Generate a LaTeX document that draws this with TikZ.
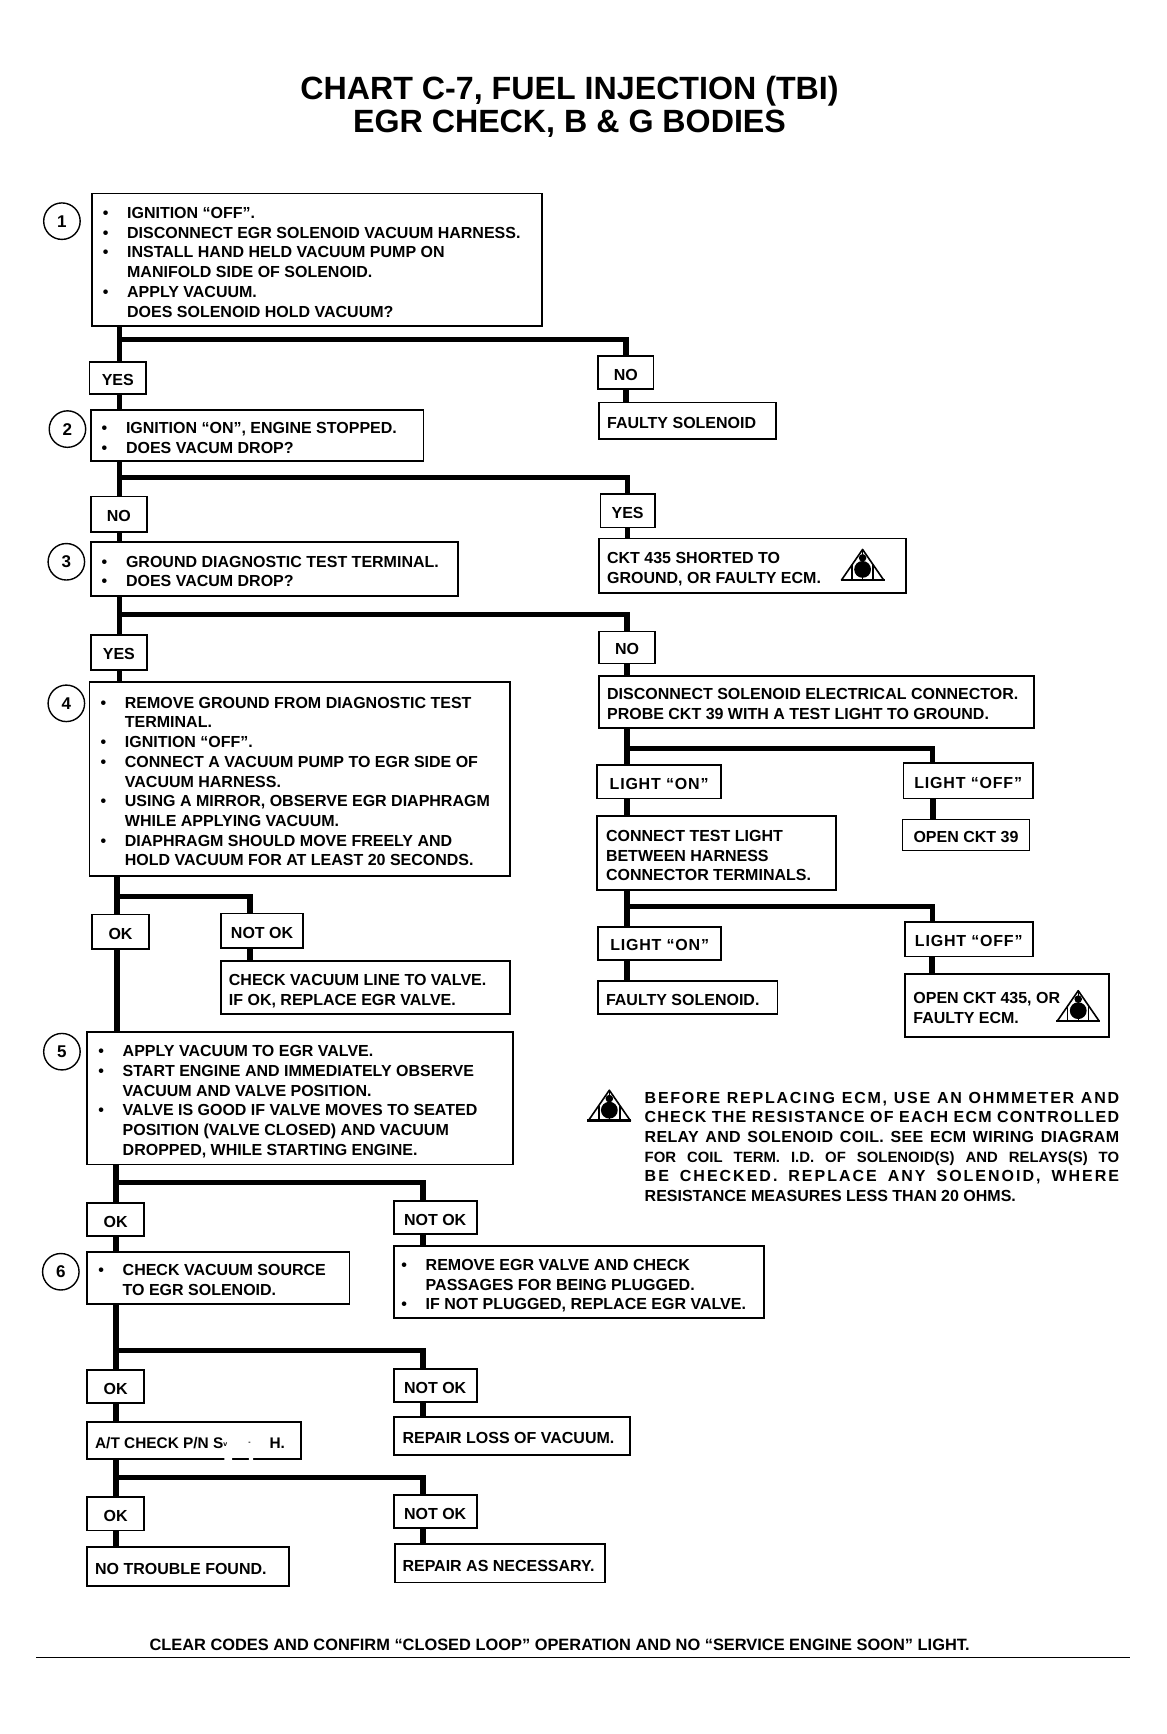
\documentclass[tikz,border=0pt]{standalone}
\usepackage{fontspec}
\setmainfont{Liberation Sans}
\def\uu{1.1062pt}
\newlength\ind
\newcommand\bl[1]{\makebox[\ind][l]{\textbullet}#1}
\newcommand\ct[1]{\hspace*{\ind}#1}
\newcommand\spc[2]{{\addfontfeature{LetterSpace=#1}#2}}
\tikzset{
  box/.style={draw=black,line width=1.8pt,fill=white,inner sep=0pt,font=\bodyfont},
  conn/.style={draw=black,line width=5.6pt,line cap=butt},
  branch/.style={draw=black,line width=5.2pt,line join=miter},
  num/.style={circle,draw=black,line width=1.4pt,minimum size=33*\uu,inner sep=0pt,font=\fontsize{17}{20}\selectfont\bfseries},
}
\newcommand\bodyfont{\fontsize{16}{19.7}\selectfont\bfseries}
% label box: centred text
\newcommand\lb[6]{\node[box,minimum width={(#4-#2)*\uu},minimum height={(#5-#3)*\uu}] (#1) at ({(#2+#4)/2},{(#3+#5)/2}) {\raisebox{-2pt}[\height][\depth]{#6}};}
% text box: name x0 y0 x1 y1 pad text
\newcommand\tb[7]{%
  \pgfmathsetlengthmacro\bxw{(#4-#2)*1.1062}%
  \pgfmathsetlengthmacro\bxp{#6*1.1062}%
  \node[box,minimum height={(#5-#3)*\uu}] (#1) at ({(#2+#4)/2},{(#3+#5)/2})
   {\makebox[\bxw][l]{\hspace*{\bxp}\raisebox{-4pt}[\height][\depth]{\begin{tabular}[c]{@{}l@{}}#7\end{tabular}}}};}
\newcommand\warn[3]{%
  \begin{scope}[shift={(#1,#2)},scale=#3]
    \draw[line width=1.6pt,line join=round] (0,-17) -- (-20,12) -- (20,12) -- cycle;
    \draw[line width=2.6pt] (-21,12) -- (21,12);
    \draw[line width=1.4pt] (-10,-2) -- (-10,12) (10,-2) -- (10,12) (0,-17) -- (0,12);
    \fill (0,2) circle[radius=8];
    \fill (0,-9) circle[radius=3.6];
  \end{scope}}
\begin{document}
\begin{tikzpicture}[x=1.1062pt,y=-1.1062pt]
\useasboundingbox (0,0) rectangle (1055,1568);
\fill[white] (0,0) rectangle (1055,1568);
\setlength\ind{24.3pt}

\node[font=\fontsize{32.2}{33}\selectfont\bfseries,align=center,inner sep=0pt] (title) at (515,97) {CHART C-7, FUEL INJECTION (TBI)\\EGR CHECK, B \& G BODIES};

\tb{b1}{83}{175}{490}{295}{10}{\bl{IGNITION “OFF”.}\\\bl{DISCONNECT EGR SOLENOID VACUUM HARNESS.}\\\bl{INSTALL HAND HELD VACUUM PUMP ON}\\\ct{MANIFOLD SIDE OF SOLENOID.}\\\bl{APPLY VACUUM.}\\\ct{DOES SOLENOID HOLD VACUUM?}}
\node[num] (n1) at (56,200) {1};
\lb{yes1}{81}{327}{132}{356}{YES}
\lb{no1}{541}{322}{591}{352}{NO}
\tb{fs1}{542}{364}{702}{397}{7}{FAULTY SOLENOID}
\tb{b2}{82}{371}{383}{417}{10}{\bl{IGNITION “ON”, ENGINE STOPPED.}\\\bl{DOES VACUM DROP?}}
\node[num] (n2) at (61,388) {2};
\lb{no2}{82}{449}{133}{481}{NO}
\lb{yes2}{543}{447}{592}{477}{YES}
\tb{ckt}{542}{487}{819}{536}{7}{CKT 435 SHORTED TO\\GROUND, OR FAULTY ECM.}
\tb{b3}{82}{490}{414}{539}{10}{\bl{GROUND DIAGNOSTIC TEST TERMINAL.}\\\bl{DOES VACUM DROP?}}
\node[num] (n3) at (60,508) {3};
\lb{yes3}{82}{574}{133}{606}{YES}
\lb{no3}{542}{571}{592}{600}{NO}
\tb{b4}{81}{617}{461}{792}{10}{\bl{REMOVE GROUND FROM DIAGNOSTIC TEST}\\\ct{TERMINAL.}\\\bl{IGNITION “OFF”.}\\\bl{CONNECT A VACUUM PUMP TO EGR SIDE OF}\\\ct{VACUUM HARNESS.}\\\bl{USING A MIRROR, OBSERVE EGR DIAPHRAGM}\\\ct{WHILE APPLYING VACUUM.}\\\bl{DIAPHRAGM SHOULD MOVE FREELY AND}\\\ct{HOLD VACUUM FOR AT LEAST 20 SECONDS.}}
\node[num] (n4) at (60,636) {4};
\tb{disc}{542}{611}{935}{658}{7}{DISCONNECT SOLENOID ELECTRICAL CONNECTOR.\\PROBE CKT 39 WITH A TEST LIGHT TO GROUND.}
\lb{on1}{540}{692}{652}{722}{\spc{5}{LIGHT “ON”}}
\lb{off1}{817}{690}{934}{722}{\spc{5}{LIGHT “OFF”}}
\tb{conn1}{540}{738}{756}{805}{8}{CONNECT TEST LIGHT\\BETWEEN HARNESS\\CONNECTOR TERMINALS.}
\lb{open1}{816}{741}{931}{769}{OPEN CKT 39}
\lb{on2}{541}{838}{652}{868}{\spc{5}{LIGHT “ON”}}
\lb{off2}{818}{834}{934}{865}{\spc{5}{LIGHT “OFF”}}
\tb{fs2}{541}{887}{703}{917}{7}{FAULTY SOLENOID.}
\tb{open2}{818}{881}{1003}{938}{8}{OPEN CKT 435, OR\\FAULTY ECM.}
\lb{ok4}{83}{827}{135}{858}{OK}
\lb{nok4}{200}{826}{274}{857}{NOT OK}
\tb{chk}{200}{869}{461}{917}{7}{CHECK VACUUM LINE TO VALVE.\\IF OK, REPLACE EGR VALVE.}
\tb{b5}{79}{933}{464}{1053}{10}{\bl{APPLY VACUUM TO EGR VALVE.}\\\bl{START ENGINE AND IMMEDIATELY OBSERVE}\\\ct{VACUUM AND VALVE POSITION.}\\\bl{VALVE IS GOOD IF VALVE MOVES TO SEATED}\\\ct{POSITION (VALVE CLOSED) AND VACUUM}\\\ct{DROPPED, WHILE STARTING ENGINE.}}
\node[num] (n5) at (56,951) {5};
\lb{ok5}{79}{1088}{130}{1118}{OK}
\lb{nok5}{356}{1086}{431}{1116}{NOT OK}
\tb{b6}{79}{1132}{316}{1179}{10}{\bl{CHECK VACUUM SOURCE}\\\ct{TO EGR SOLENOID.}}
\node[num] (n6) at (55,1150) {6};
\tb{rem}{356}{1127}{691}{1192}{7}{\bl{REMOVE EGR VALVE AND CHECK}\\\ct{PASSAGES FOR BEING PLUGGED.}\\\bl{IF NOT PLUGGED, REPLACE EGR VALVE.}}
\lb{ok6}{79}{1239}{130}{1269}{OK}
\lb{nok6}{356}{1238}{431}{1268}{NOT OK}
\tb{at}{79}{1286}{272}{1319}{7}{\fontsize{15.4}{19.7}\selectfont A/T CHECK P/N S\raisebox{2pt}{\scriptsize v}\hspace{21pt}\raisebox{4pt}{\scriptsize -}\hspace{19pt}H.}
\tb{rl}{356}{1281}{570}{1316}{8}{REPAIR LOSS OF VACUUM.}
\lb{ok7}{79}{1354}{130}{1384}{OK}
\lb{nok7}{356}{1352}{431}{1382}{NOT OK}
\tb{nt}{79}{1399}{261}{1434}{7}{NO TROUBLE FOUND.}
\tb{ra}{357}{1396}{547}{1431}{7}{REPAIR AS NECESSARY.}

% print damage on the border of the A/T box
\fill[white] (203,1317) rectangle (210,1321) (225,1317) rectangle (229,1321);

% junctions
\coordinate (j1) at (108,307);
\coordinate (j2) at (108,432);
\coordinate (j3) at (108,556);
\coordinate (j4) at (106,811);
\coordinate (j5) at (105,1069);
\coordinate (j6) at (105,1221);
\coordinate (j7) at (105,1336);
\coordinate (j8) at (567,677);
\coordinate (j9) at (567,820);

% trunk
\draw[conn] (b1.south -| j1) -- (yes1.north -| j1);
\draw[conn] (yes1.south -| j1) -- (b2.north -| j1);
\draw[conn] (b2.south -| j2) -- (no2.north -| j2);
\draw[conn] (no2.south -| j2) -- (b3.north -| j2);
\draw[conn] (b3.south -| j3) -- (yes3.north -| j3);
\draw[conn] (yes3.south -| j3) -- (b4.north -| j3);
\draw[conn] (b4.south -| j4) -- (ok4.north -| j4);
\draw[conn] (ok4.south -| j4) -- (b5.north -| j4);
\draw[conn] (b5.south -| j5) -- (ok5.north -| j5);
\draw[conn] (ok5.south -| j5) -- (b6.north -| j5);
\draw[conn] (b6.south -| j6) -- (ok6.north -| j6);
\draw[conn] (ok6.south -| j6) -- (at.north -| j6);
\draw[conn] (at.south -| j7) -- (ok7.north -| j7);
\draw[conn] (ok7.south -| j7) -- (nt.north -| j7);
% branches
\draw[branch] (j1) -| (no1.north);
\draw[branch] (j2) -| (yes2.north);
\draw[branch] (j3) -| (no3.north);
\draw[branch] (j4) -| ([xshift=-11*\uu]nok4.north);
\draw[branch] (j5) -| ([xshift=-11*\uu]nok5.north);
\draw[branch] (j6) -| ([xshift=-11*\uu]nok6.north);
\draw[branch] (j7) -| ([xshift=-11*\uu]nok7.north);
\draw[branch] (j8) -| ([xshift=-32*\uu]off1.north);
\draw[branch] (j9) -| ([xshift=-33*\uu]off2.north);
% right side verticals
\draw[conn] (no1.south) -- (fs1.north -| no1);
\draw[conn] (yes2.south) -- (ckt.north -| yes2);
\draw[conn] (no3.south) -- (disc.north -| no3);
\draw[conn] (disc.south -| j8) -- (on1.north -| j8);
\draw[conn] (on1.south -| j8) -- (conn1.north -| j8);
\draw[conn] (conn1.south -| j9) -- (on2.north -| j9);
\draw[conn] (on2.south -| j9) -- (fs2.north -| j9);
\draw[conn] ([xshift=-32*\uu]off1.south) -- ([xshift=-32*\uu]off1.south |- open1.north);
\draw[conn] ([xshift=-33*\uu]off2.south) -- ([xshift=-33*\uu]off2.south |- open2.north);
\draw[conn] ([xshift=-11*\uu]nok4.south) -- ([xshift=-11*\uu]nok4.south |- chk.north);
\draw[conn] ([xshift=-11*\uu]nok5.south) -- ([xshift=-11*\uu]nok5.south |- rem.north);
\draw[conn] ([xshift=-11*\uu]nok6.south) -- ([xshift=-11*\uu]nok6.south |- rl.north);
\draw[conn] ([xshift=-11*\uu]nok7.south) -- ([xshift=-11*\uu]nok7.south |- ra.north);

\warn{780}{513}{0.95}
\warn{975}{912}{0.95}
\warn{551}{1002}{0.95}

\node[inner sep=0pt,text width=429*\uu,align=justify,font=\fontsize{16}{19.6}\selectfont\bfseries] (note) at (797.5,1037) {\spc{11}{BEFORE REPLACING ECM, USE AN OHMMETER AND}\linebreak \spc{7.5}{CHECK THE RESISTANCE OF EACH ECM CONTROLLED}\linebreak \spc{2}{RELAY AND SOLENOID COIL. SEE ECM WIRING DIAGRAM}\linebreak {\fontsize{14.9}{19.6}\selectfont FOR COIL TERM. I.D. OF SOLENOID(S) AND RELAYS(S) TO}\linebreak \spc{12.5}{BE CHECKED. REPLACE ANY SOLENOID, WHERE}\linebreak RESISTANCE MEASURES LESS THAN 20 OHMS.};

\node[inner sep=0pt,font=\fontsize{16.4}{18}\selectfont\bfseries] (foot) at (506,1487) {CLEAR CODES AND CONFIRM “CLOSED LOOP” OPERATION AND NO “SERVICE ENGINE SOON” LIGHT.};
\coordinate (r0) at (33,1499);
\coordinate (r1) at (1022,1499);
\draw[line width=1pt] (r0) -- (r1);
\end{tikzpicture}
\end{document}
